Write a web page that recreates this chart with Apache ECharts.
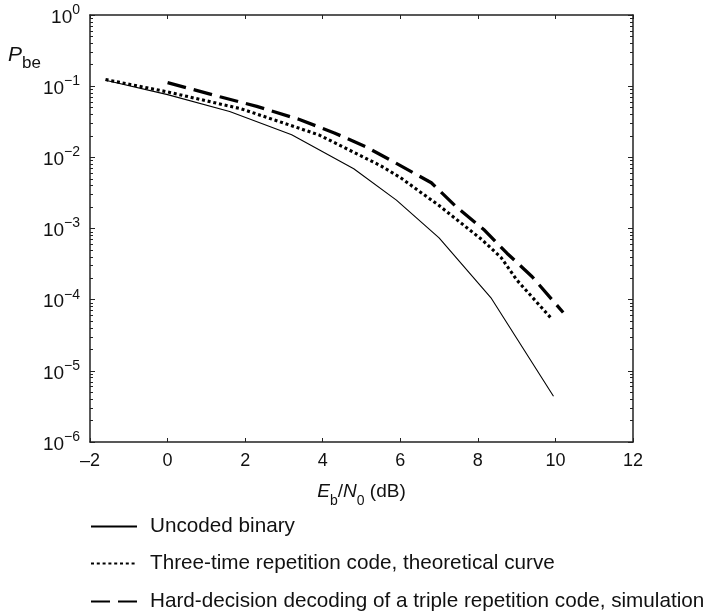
<!DOCTYPE html>
<html>
<head>
<meta charset="utf-8">
<script src="https://cdn.jsdelivr.net/npm/echarts@6/dist/echarts.min.js"></script>
<style>
	html, body { margin: 0; padding: 0; background: #fff; }
	#chart { width: 705px; height: 611px; }
</style>
</head>
<body>
<div id="chart"></div>
<script>
// Eb/N0 (dB) and bit error probability
var uncodedX = [-1.6, 0, 1.6, 3.2, 4.8, 5.9, 7.0, 8.35, 9.95];
var uncodedP = [0.121, 0.076, 0.044, 0.0207, 0.0069, 0.0025, 0.00074, 0.000104, 0.0000044];

var theoryX = [-1.6, 0, 1.9, 3.9, 5.5, 6.0, 7.0, 8.1, 8.6, 9.0, 9.9];
var theoryP = [0.124, 0.083, 0.048, 0.0207, 0.0076, 0.0052, 0.0021, 0.0007, 0.00039, 0.00019, 0.000054];

var simX = [0, 1.35, 2.3, 3.4, 4.3, 5.1, 5.8, 6.8, 7.45, 8.15, 8.75, 9.4, 10.2];
var simP = [0.112, 0.071, 0.052, 0.034, 0.022, 0.0142, 0.0088, 0.0044, 0.0020, 0.00097, 0.00045, 0.00021, 0.000066];

var seriesNames = ['Uncoded binary', 'Three-time repetition code, theoretical curve', 'Hard-decision decoding of a triple repetition code, simulation'];

// minor ticks of the log axis (2..9 in every decade)
var minorTicks = [];
for (var e = -6; e < 0; e++) {
	for (var m = 2; m <= 9; m++) {
		minorTicks.push(m * Math.pow(10, e));
	}
}

function pairs(xs, ys) {
	return xs.map(function (x, i) { return [x, ys[i]]; });
}

var font = 'Liberation Sans, Arial, Helvetica, sans-serif';
var axisColor = '#222';
var textColor = '#111';

function legendAt(name, top) {
	return {
		orient: 'vertical',
		left: 85,
		top: top,
		itemWidth: 46,
		itemHeight: 14,
		itemStyle: { color: 'rgba(0,0,0,0)', borderWidth: 0, opacity: 0 },
		textStyle: { fontSize: 20.7, color: textColor, fontFamily: font, padding: [0, 0, 0, 8] },
		data: [name]
	};
}

var myChart = echarts.init(document.getElementById('chart'));
option = {
	animation: false,
	textStyle: { fontFamily: font },
	grid: {
		left: 90,
		right: 72,
		top: 15,
		bottom: 169
	},
	xAxis: [{
		type: 'value',
		min: -2,
		max: 12,
		interval: 2,
		name: '{i|E}{sub|b}{n|/}{i|N}{sub|0}{n| (dB)}',
		nameLocation: 'middle',
		nameGap: 40,
		nameTextStyle: {
			rich: {
				i: { fontSize: 19, fontStyle: 'italic', color: textColor, fontFamily: font, verticalAlign: 'top', lineHeight: 26 },
				n: { fontSize: 19, color: textColor, fontFamily: font, verticalAlign: 'top', lineHeight: 26 },
				sub: { fontSize: 14, color: textColor, fontFamily: font, verticalAlign: 'bottom', lineHeight: 26 }
			}
		},
		axisLine: { onZero: false, lineStyle: { color: axisColor, width: 1.5 } },
		axisTick: { inside: true, length: 4, lineStyle: { color: axisColor } },
		axisLabel: {
			fontSize: 18,
			color: textColor,
			margin: 10,
			formatter: function (v) { return v < 0 ? '\u2013' + (-v) : String(v); }
		},
		splitLine: { show: false }
	}, {
		type: 'value',
		position: 'top',
		min: -2,
		max: 12,
		interval: 2,
		axisLine: { onZero: false, lineStyle: { color: axisColor, width: 1.5 } },
		axisTick: { inside: true, length: 4, lineStyle: { color: axisColor } },
		axisLabel: { show: false },
		splitLine: { show: false }
	}],
	yAxis: [{
		type: 'log',
		logBase: 10,
		min: 1e-6,
		max: 1,
		axisLine: { onZero: false, lineStyle: { color: axisColor, width: 1.5 } },
		axisTick: { inside: true, length: 5, lineStyle: { color: axisColor } },
		axisLabel: {
			margin: 10,
			formatter: function (v) {
				var ex = Math.round(Math.log(v) / Math.LN10);
				return '{b|10}{s|' + (ex < 0 ? '\u2212' + (-ex) : ex) + '}';
			},
			rich: {
				b: { fontSize: 19, color: textColor, fontFamily: font, verticalAlign: 'bottom', lineHeight: 24 },
				s: { fontSize: 14, color: textColor, fontFamily: font, verticalAlign: 'top', lineHeight: 24 }
			}
		},
		splitLine: { show: false }
	}, {
		type: 'log',
		logBase: 10,
		min: 1e-6,
		max: 1,
		position: 'left',
		axisLine: { show: false, onZero: false },
		axisTick: { inside: true, length: 3, customValues: minorTicks, lineStyle: { color: axisColor } },
		axisLabel: { show: false },
		splitLine: { show: false }
	}, {
		type: 'log',
		logBase: 10,
		min: 1e-6,
		max: 1,
		position: 'right',
		axisLine: { onZero: false, lineStyle: { color: axisColor, width: 1.5 } },
		axisTick: { inside: true, length: 5, lineStyle: { color: axisColor } },
		axisLabel: { show: false },
		splitLine: { show: false }
	}, {
		type: 'log',
		logBase: 10,
		min: 1e-6,
		max: 1,
		position: 'right',
		axisLine: { show: false, onZero: false },
		axisTick: { inside: true, length: 3, customValues: minorTicks, lineStyle: { color: axisColor } },
		axisLabel: { show: false },
		splitLine: { show: false }
	}],
	graphic: [{
		type: 'text',
		left: 8,
		top: 45,
		style: {
			text: '{i|P}{sub|be}',
			rich: {
				i: { fontSize: 21, fontStyle: 'italic', fill: textColor, fontFamily: font, verticalAlign: 'top', lineHeight: 27 },
				sub: { fontSize: 17, fill: textColor, fontFamily: font, verticalAlign: 'bottom', lineHeight: 27 }
			}
		}
	}],
	legend: [
		legendAt(seriesNames[0], 511),
		legendAt(seriesNames[1], 548),
		legendAt(seriesNames[2], 586)
	],
	series: [{
		name: seriesNames[0],
		type: 'line',
		data: pairs(uncodedX, uncodedP),
		symbol: 'none',
		color: '#000',
		lineStyle: { color: '#000', width: 1.1 }
	}, {
		name: seriesNames[1],
		type: 'line',
		data: pairs(theoryX, theoryP),
		symbol: 'none',
		color: '#000',
		lineStyle: { color: '#000', width: 3.1, type: [3, 2.8] }
	}, {
		name: seriesNames[2],
		type: 'line',
		data: pairs(simX, simP),
		symbol: 'none',
		color: '#000',
		lineStyle: { color: '#000', width: 3.3, type: [19, 8] }
	}]
};
myChart.setOption(option);
</script>
</body>
</html>
